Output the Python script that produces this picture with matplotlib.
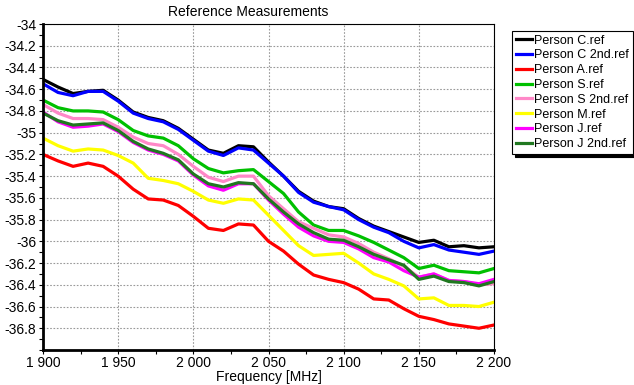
"""
Reference measurements chart - attenuation vs frequency per person
"""

import matplotlib
matplotlib.use("Agg")
import matplotlib.pyplot as plt
from matplotlib.ticker import MultipleLocator, FuncFormatter

plt.rcParams['font.family'] = ['Liberation Sans', 'DejaVu Sans']

freq = list(range(1900, 2201, 10))

person_c = [-34.51, -34.58, -34.64, -34.62, -34.61, -34.70, -34.81, -34.86, -34.89, -34.96,
            -35.06, -35.16, -35.19, -35.12, -35.13, -35.27, -35.40, -35.54, -35.63, -35.68,
            -35.70, -35.79, -35.86, -35.91, -35.96, -36.01, -35.99, -36.05, -36.04, -36.06,
            -36.05]
person_c2 = [-34.55, -34.63, -34.66, -34.62, -34.62, -34.71, -34.82, -34.87, -34.90, -34.97,
             -35.07, -35.17, -35.21, -35.14, -35.16, -35.28, -35.40, -35.55, -35.64, -35.68,
             -35.71, -35.80, -35.87, -35.92, -36.00, -36.06, -36.03, -36.08, -36.10, -36.12,
             -36.09]
person_a = [-35.20, -35.26, -35.31, -35.28, -35.31, -35.40, -35.52, -35.61, -35.62, -35.67,
            -35.77, -35.88, -35.90, -35.84, -35.85, -36.00, -36.09, -36.21, -36.31, -36.35,
            -36.38, -36.44, -36.53, -36.54, -36.62, -36.69, -36.72, -36.76, -36.78, -36.80,
            -36.77]
person_s = [-34.70, -34.77, -34.80, -34.80, -34.81, -34.88, -34.98, -35.03, -35.05, -35.12,
            -35.24, -35.33, -35.37, -35.35, -35.34, -35.45, -35.56, -35.73, -35.85, -35.90,
            -35.90, -35.95, -36.01, -36.08, -36.15, -36.25, -36.22, -36.27, -36.28, -36.29,
            -36.25]
person_s2 = [-34.74, -34.82, -34.87, -34.87, -34.88, -34.95, -35.04, -35.10, -35.12, -35.20,
             -35.31, -35.41, -35.45, -35.40, -35.40, -35.58, -35.70, -35.82, -35.88, -35.94,
             -35.96, -36.02, -36.10, -36.16, -36.23, -36.33, -36.30, -36.36, -36.37, -36.40,
             -36.39]
person_m = [-35.05, -35.12, -35.17, -35.15, -35.16, -35.21, -35.28, -35.42, -35.44, -35.47,
            -35.54, -35.62, -35.65, -35.61, -35.62, -35.76, -35.90, -36.04, -36.13, -36.12,
            -36.11, -36.20, -36.30, -36.35, -36.41, -36.53, -36.52, -36.59, -36.59, -36.60,
            -36.56]
person_j = [-34.81, -34.90, -34.95, -34.94, -34.92, -34.99, -35.09, -35.16, -35.20, -35.26,
            -35.39, -35.49, -35.53, -35.47, -35.47, -35.62, -35.75, -35.87, -35.95, -36.00,
            -36.01, -36.07, -36.15, -36.19, -36.27, -36.33, -36.30, -36.36, -36.37, -36.39,
            -36.35]
person_j2 = [-34.82, -34.89, -34.93, -34.92, -34.91, -34.98, -35.08, -35.15, -35.19, -35.25,
             -35.38, -35.47, -35.50, -35.46, -35.47, -35.61, -35.73, -35.84, -35.92, -35.98,
             -35.99, -36.05, -36.12, -36.17, -36.22, -36.35, -36.32, -36.37, -36.38, -36.41,
             -36.37]

names = ["Person C.ref", "Person C 2nd.ref", "Person A.ref", "Person S.ref",
         "Person S 2nd.ref", "Person M.ref", "Person J.ref", "Person J 2nd.ref"]
series = [person_c, person_c2, person_a, person_s, person_s2, person_m, person_j, person_j2]
colors = ['#000000', '#0000ff', '#ff0000', '#00c000', '#ff88c8', '#ffff00', '#ff00ff', '#207820']

fig = plt.figure(figsize=(6.34, 3.85), dpi=100)
ax = fig.add_axes([43 / 634, 1 - 350 / 385, 451 / 634, 326 / 385])

for vals, name, col in zip(series, names, colors):
    ax.plot(freq, vals, color=col, lw=2.3, label=name)

ax.set_xlim(1900, 2200)
ax.set_ylim(-37, -34)
ax.xaxis.set_major_locator(MultipleLocator(50))
ax.xaxis.set_minor_locator(MultipleLocator(25))
ax.yaxis.set_minor_locator(MultipleLocator(0.1))
ax.xaxis.set_major_formatter(FuncFormatter(lambda v, p: f"{int(v):,}".replace(",", " ")))
ax.yaxis.set_major_formatter(FuncFormatter(lambda v, p: f"{v:g}"))
# the reference has no -37 label
ax.set_yticks([round(-34 - 0.2 * i, 1) for i in range(15)])

ax.grid(True, which='major', color='#999999', linestyle=(0, (1.5, 1.5)), lw=0.8)
ax.tick_params(axis='both', which='both', labelsize=10, direction='out', length=3, width=0.8)
ax.tick_params(axis='x', which='both', top=False, pad=1)
ax.tick_params(axis='y', which='both', right=False, pad=2)

for side in ['left', 'bottom']:
    ax.spines[side].set_linewidth(2)
for side in ['top', 'right']:
    ax.spines[side].set_linewidth(0.8)

ax.set_xlabel("Frequency [MHz]", fontsize=10, labelpad=0)
fig.text(248 / 634, 1 - 12 / 385, "Reference Measurements", ha='center', va='center', fontsize=10)

leg = ax.legend(loc='upper left', bbox_to_anchor=(512 / 634, 1 - 31 / 385),
                bbox_transform=fig.transFigure, fontsize=9, frameon=True, fancybox=False,
                shadow={'color': 'black', 'alpha': 1}, handlelength=1.3, handletextpad=0.2,
                borderpad=0.3, labelspacing=0.22, borderaxespad=0)
leg.get_frame().set_edgecolor('black')
leg.get_frame().set_linewidth(0.8)
for line in leg.get_lines():
    line.set_linewidth(2.3)

fig.savefig("out.png", dpi=100)
